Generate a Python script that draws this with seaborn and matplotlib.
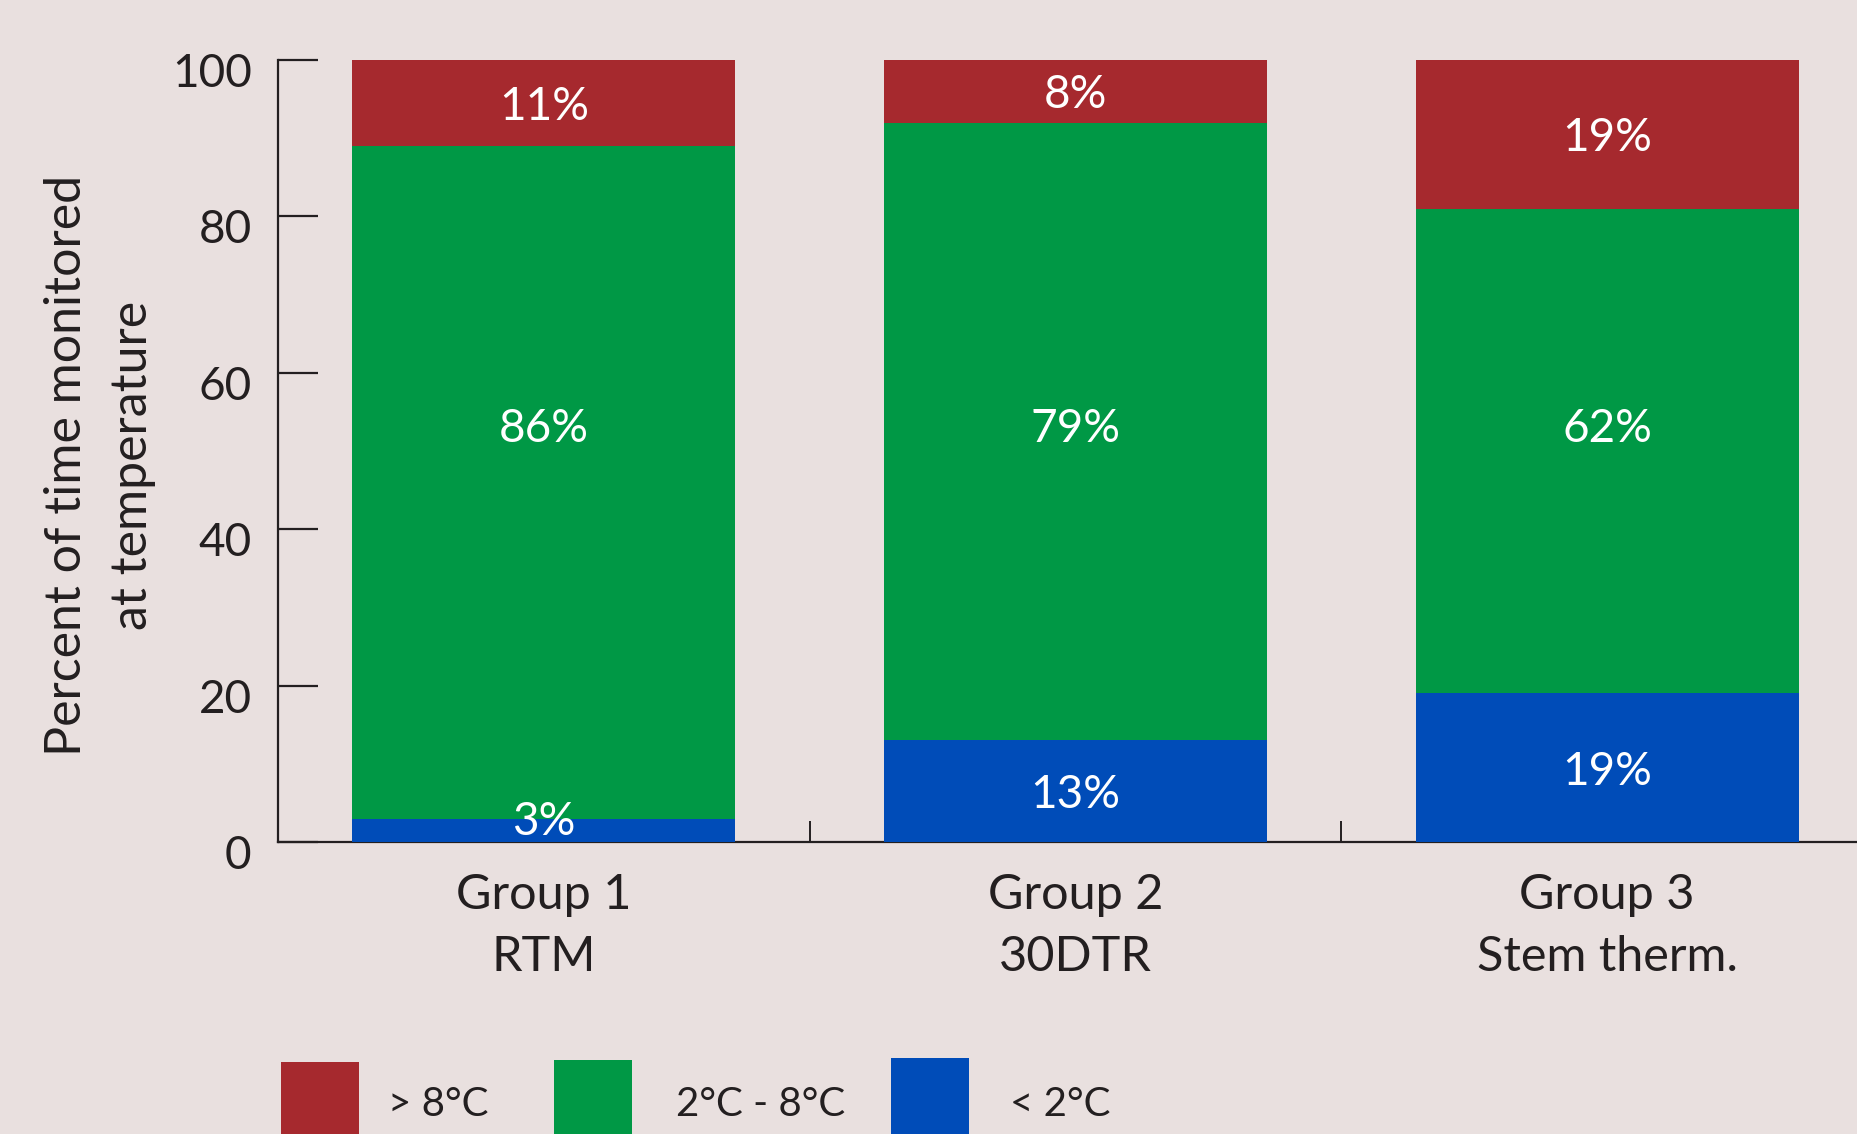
import matplotlib
matplotlib.use("Agg")
import matplotlib.pyplot as plt
import matplotlib.transforms as mtransforms
from matplotlib.patches import Rectangle
import numpy as np
import seaborn as sns

# Share of monitoring time spent in each temperature band, per group
groups = ["Group 1\nRTM", "Group 2\n30DTR", "Group 3\nStem therm."]
below_2 = [3, 13, 19]
between_2_8 = [86, 79, 62]
above_8 = [11, 8, 19]
band_labels = ["> 8°C", "2°C - 8°C", "< 2°C"]
y_ticks = [0, 20, 40, 60, 80, 100]

BG = "#E9E0DF"
RED = "#A6292E"
GREEN = "#009845"
BLUE = "#004CB8"
INK = "#231F20"

sns.set_theme(style="white")
plt.rcParams["font.family"] = ["Lato", "DejaVu Sans"]

W, H = 1857, 1134
fig = plt.figure(figsize=(W / 100, H / 100), dpi=100, facecolor=BG)
ax = fig.add_axes([278 / W, 1 - 842 / H, 1 - 278 / W, (842 - 60) / H])
ax.set_facecolor(BG)

low = np.array(below_2, dtype=float)
mid = np.array(between_2_8, dtype=float)
high = np.array(above_8, dtype=float)

common = dict(width=0.72, saturation=1, errorbar=None, ax=ax, zorder=3,
              linewidth=0)
sns.barplot(x=groups, y=low, color=BLUE, **common)
sns.barplot(x=groups, y=mid, bottom=low, color=GREEN, **common)
sns.barplot(x=groups, y=high, bottom=low + mid, color=RED, **common)

# Segment value labels (nudged slightly down so the digits sit optically centred)
lab_kw = dict(ha="center", va="center", color="white", fontsize=33, zorder=5)
nudge = -0.5
for i in range(len(groups)):
    ax.text(i, max(low[i] / 2, 3.0) + nudge, f"{below_2[i]}%", **lab_kw)
    ax.text(i, 53.3 + nudge, f"{between_2_8[i]}%", **lab_kw)
    ax.text(i, low[i] + mid[i] + high[i] / 2 + nudge, f"{above_8[i]}%", **lab_kw)

ax.set_xlim(-0.5, 2.47)
ax.set_ylim(0, 100)
ax.set_yticks(y_ticks)
ax.set_yticklabels([str(t) for t in y_ticks])
ax.set_xticks([0, 1, 2])
ax.set_xticks([0.5, 1.5], minor=True)
ax.set_xlabel("")
ax.set_ylabel("")

for side in ("top", "right"):
    ax.spines[side].set_visible(False)
for side in ("left", "bottom"):
    ax.spines[side].set_color(INK)
    ax.spines[side].set_linewidth(1.6)
    ax.spines[side].set_zorder(2)

ax.tick_params(axis="y", direction="in", length=29, width=1.6, color=INK,
               labelsize=33, labelcolor=INK, pad=19, left=True)
ax.tick_params(axis="x", which="major", length=0, labelsize=35,
               labelcolor=INK, pad=22)
ax.tick_params(axis="x", which="minor", direction="in", length=15,
               width=1.4, color=INK, bottom=True)
for lbl in ax.get_xticklabels():
    lbl.set_linespacing(1.5)
    lbl.set_multialignment("center")

shift = mtransforms.ScaledTranslation(0, -10 / 100, fig.dpi_scale_trans)
for lbl in ax.get_yticklabels():
    lbl.set_transform(lbl.get_transform() + shift)

fig.text(100 / W, 1 - 465 / H, "Percent of time monitored\nat temperature",
         rotation=90, ha="center", va="center", multialignment="center",
         fontsize=36, color=INK, linespacing=1.55)

# Colour key along the bottom edge
keys = [(281, 1062, RED, 388), (554, 1060, GREEN, 676), (891, 1058, BLUE, 1010)]
for (x0, y0, col, tx), txt in zip(keys, band_labels):
    fig.patches.append(Rectangle((x0 / W, 0), 78 / W, (H - y0) / H,
                                 transform=fig.transFigure, color=col,
                                 linewidth=0))
    fig.text(tx / W, 1 - 1104 / H, txt, ha="left", va="center",
             fontsize=29, color=INK)

fig.savefig("out.png", dpi=100, facecolor=BG)
